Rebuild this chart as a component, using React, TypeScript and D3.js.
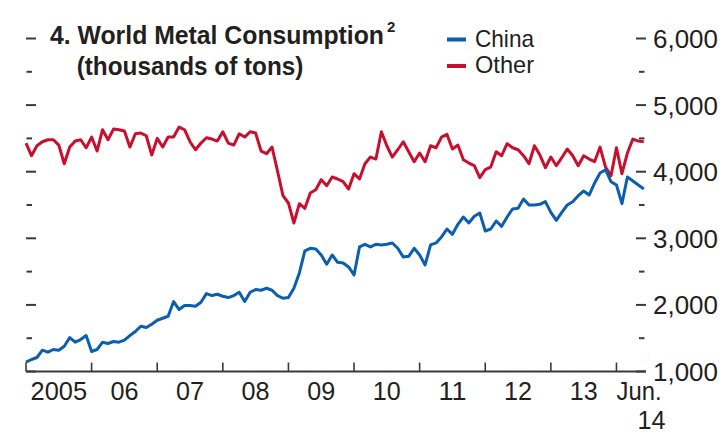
import React from "react";
import * as d3 from "d3";

const startYear = 2005;
const chinaValues = [
  1140, 1180, 1210, 1320, 1290, 1330, 1320, 1380, 1510, 1440, 1480, 1540,
  1300, 1330, 1440, 1420, 1450, 1440, 1470, 1540, 1600, 1680, 1660, 1710,
  1770, 1800, 1830, 2050, 1930, 1990, 1990, 1980, 2040, 2170, 2140, 2160,
  2130, 2110, 2140, 2190, 2050, 2190, 2230, 2220, 2250, 2220, 2140, 2100,
  2110, 2250, 2480, 2810, 2850, 2840, 2750, 2610, 2750, 2640, 2630, 2570,
  2450, 2870, 2910, 2870, 2910, 2900, 2910, 2930, 2850, 2720, 2730, 2850,
  2750, 2600, 2900, 2930, 3020, 3140, 3060, 3210, 3320, 3230, 3330, 3380,
  3110, 3140, 3260, 3180, 3320, 3440, 3450, 3590, 3500, 3500, 3510, 3550,
  3390, 3270, 3390, 3500, 3550, 3640, 3710, 3650, 3830, 3980, 4030, 3850,
  3800, 3520, 3920, 3860, 3800, 3740,
];
const otherValues = [
  4430, 4240, 4390, 4450, 4480, 4480, 4400, 4120, 4370, 4460, 4480, 4360,
  4520, 4310, 4630, 4480, 4640, 4630, 4610, 4370, 4570, 4580, 4540, 4250,
  4500, 4370, 4520, 4520, 4670, 4630, 4450, 4330, 4430, 4510, 4490, 4460,
  4600, 4430, 4400, 4570, 4520, 4600, 4580, 4310, 4270, 4370, 4010, 3640,
  3530, 3230, 3520, 3450, 3680, 3730, 3880, 3790, 3920, 3890, 3850, 3740,
  3970, 3890, 4120, 4220, 4190, 4600, 4390, 4220, 4330, 4450, 4300, 4150,
  4280, 4150, 4390, 4360, 4520, 4560, 4340, 4400, 4180, 4130, 4090, 3910,
  4030, 4070, 4300, 4240, 4420, 4360, 4330, 4240, 4120, 4390, 4250, 4060,
  4220, 4090, 4210, 4340, 4240, 4090, 4240, 4190, 4150, 4370, 4070, 3940,
  4360, 3970, 4280, 4490, 4460, 4450,
];
const yearLabels = ["2005", "06", "07", "08", "09", "10", "11", "12", "13"];
const yearTicks = [2005, 2006, 2007, 2008, 2009, 2010, 2011, 2012, 2013, 2014];
const majorTicks = [1000, 2000, 3000, 4000, 5000, 6000];
const minorTicks = [1500, 2500, 3500, 4500, 5500];
const seriesNames = ["China", "Other"];
const seriesColors = ["#0b5fae", "#c8102e"];

const FONT = "'Liberation Sans', Arial, sans-serif";
const TEXT = "#231f20";
const AXIS = "#3a3a3a";

export default function App() {
  const W = 725;
  const H = 434;
  const n = chinaValues.length;
  const x = d3
    .scaleLinear()
    .domain([startYear, startYear + (n - 1) / 12])
    .range([26, 643.8]);
  const y = d3.scaleLinear().domain([1000, 6000]).range([371.5, 38.5]);
  const line = d3
    .line<number>()
    .x((_, i) => x(startYear + i / 12))
    .y((d) => y(d));
  const fmt = d3.format(",");

  return (
    <svg
      width={W}
      height={H}
      style={{ position: "absolute", left: 0, top: 0, background: "#fff" }}
      fontFamily={FONT}
    >
      {/* Title */}
      <text x={50} y={43.5} fontSize={25} fontWeight="bold" fill={TEXT} textLength={334} lengthAdjust="spacingAndGlyphs">
        4. World Metal Consumption
      </text>
      <text x={387} y={31.5} fontSize={15} fontWeight="bold" fill={TEXT}>
        2
      </text>
      <text x={76.7} y={75} fontSize={25} fontWeight="bold" fill={TEXT} textLength={226.7} lengthAdjust="spacingAndGlyphs">
        (thousands of tons)
      </text>

      {/* Legend */}
      {seriesNames.map((name, i) => (
        <g key={name}>
          <line x1={447} x2={466} y1={39.5 + i * 26.5} y2={39.5 + i * 26.5} stroke={seriesColors[i]} strokeWidth={4} />
          <text x={475} y={47 + i * 26} fontSize={24} fill={TEXT} textLength={59} lengthAdjust="spacingAndGlyphs">
            {name}
          </text>
        </g>
      ))}

      {/* Left & right ticks */}
      {majorTicks.map((v) => (
        <g key={"M" + v}>
          <line x1={26} x2={36} y1={y(v)} y2={y(v)} stroke={AXIS} strokeWidth={2} />
          <line x1={636} x2={646} y1={y(v)} y2={y(v)} stroke={AXIS} strokeWidth={2} />
          <text x={653} y={y(v) + 9.5} fontSize={26} fill={TEXT} textLength={65} lengthAdjust="spacingAndGlyphs">
            {fmt(v)}
          </text>
        </g>
      ))}
      {minorTicks.map((v) => (
        <g key={"m" + v}>
          <line x1={26.5} x2={32} y1={y(v)} y2={y(v)} stroke={AXIS} strokeWidth={2} />
          <line x1={639} x2={644.5} y1={y(v)} y2={y(v)} stroke={AXIS} strokeWidth={2} />
        </g>
      ))}

      {/* Series */}
      <path d={line(otherValues) || ""} fill="none" stroke={seriesColors[1]} strokeWidth={3} strokeLinejoin="round" />
      <path d={line(chinaValues) || ""} fill="none" stroke={seriesColors[0]} strokeWidth={3} strokeLinejoin="round" />

      {/* X axis */}
      <line x1={26} x2={646} y1={y(1000)} y2={y(1000)} stroke={AXIS} strokeWidth={2} />
      {yearTicks.map((yr) => (
        <line key={yr} x1={x(yr)} x2={x(yr)} y1={y(1000)} y2={y(1000) - 9} stroke={AXIS} strokeWidth={1.6} />
      ))}
      {yearLabels.map((lab, i) => (
        <text
          key={lab}
          x={x(startYear + i + 0.5)}
          y={400}
          fontSize={26}
          fill={TEXT}
          textAnchor="middle"
          textLength={lab.length === 4 ? 56.5 : 28}
          lengthAdjust="spacingAndGlyphs"
        >
          {lab}
        </text>
      ))}
      <text x={616.5} y={400} fontSize={26} fill={TEXT} textLength={45} lengthAdjust="spacingAndGlyphs">
        Jun.
      </text>
      <text x={637.5} y={428.5} fontSize={25} fill={TEXT} textLength={28} lengthAdjust="spacingAndGlyphs">
        14
      </text>
    </svg>
  );
}
